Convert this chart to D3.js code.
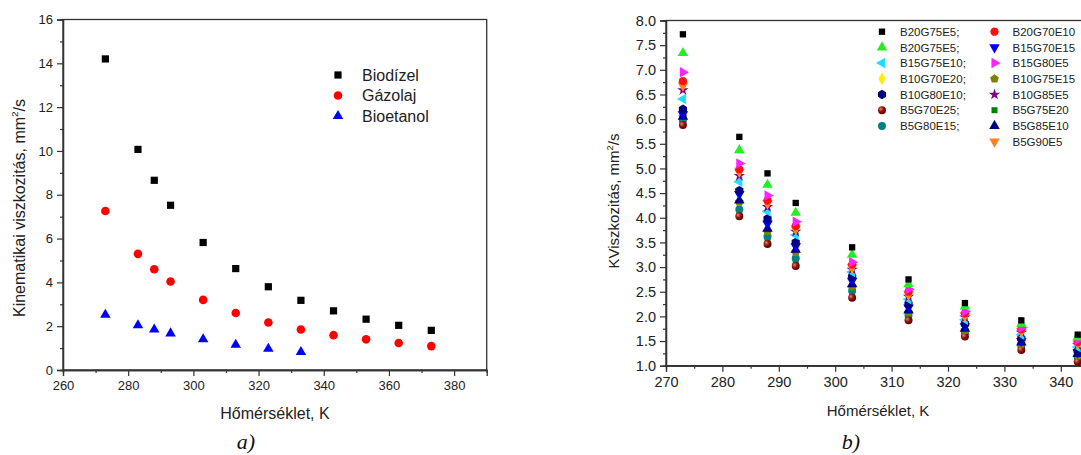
<!DOCTYPE html>
<html>
<head>
<meta charset="utf-8">
<script src="https://cdn.jsdelivr.net/npm/d3@7"></script>
<style>
  html, body { margin: 0; padding: 0; background: #fff; overflow: hidden; }
  svg { display: block; font-family: "Liberation Sans", Arial, sans-serif; }
</style>
</head>
<body>
<svg id="chart" width="1081" height="455"></svg>
<script>
// ---- Panel a): kinematic viscosity of the pure fuels ----
const tempsA = [273, 283, 288, 293, 303, 313, 323, 333, 343, 353, 363, 373];
const biodizel = [14.2, 10.07, 8.66, 7.52, 5.82, 4.63, 3.8, 3.18, 2.7, 2.32, 2.04, 1.81];
const gazolaj = [7.26, 5.3, 4.6, 4.04, 3.2, 2.6, 2.17, 1.85, 1.59, 1.4, 1.23, 1.09];
const bioetanol = [2.52, 2.04, 1.85, 1.67, 1.4, 1.15, 0.97, 0.82];
const seriesNamesA = ["Biodízel", "Gázolaj", "Bioetanol"];
const xTicksA = [260, 280, 300, 320, 340, 360, 380];
const yTicksA = [0, 2, 4, 6, 8, 10, 12, 14, 16];

// ---- Panel b): viscosity of the blends ----
const tempsB = [273, 283, 288, 293, 303, 313, 323, 333, 343];
const B20G75E5_a = [7.72, 5.64, 4.9, 4.3, 3.4, 2.75, 2.27, 1.92, 1.63];
const B20G75E5_b = [7.34, 5.37, 4.67, 4.1, 3.25, 2.65, 2.2, 1.85, 1.58];
const B15G75E10 = [6.41, 4.73, 4.13, 3.65, 2.9, 2.35, 1.93, 1.63, 1.38];
const B10G70E20 = [6.7, 4.95, 4.3, 3.78, 3.0, 2.45, 2.02, 1.7, 1.45];
const B10G80E10 = [6.2, 4.55, 3.98, 3.5, 2.8, 2.25, 1.85, 1.55, 1.3];
const B5G70E25 = [5.88, 4.03, 3.47, 3.02, 2.38, 1.92, 1.59, 1.32, 1.08];
const B5G80E15 = [5.97, 4.17, 3.62, 3.18, 2.52, 2.02, 1.67, 1.4, 1.17];
const B20G70E10 = [6.77, 4.98, 4.35, 3.83, 3.05, 2.5, 2.06, 1.74, 1.48];
const B15G70E15 = [6.1, 4.48, 3.88, 3.42, 2.72, 2.18, 1.8, 1.5, 1.27];
const B15G80E5 = [6.95, 5.1, 4.45, 3.92, 3.1, 2.55, 2.1, 1.77, 1.52];
const B10G75E15 = [6.05, 4.32, 3.72, 3.3, 2.6, 2.08, 1.72, 1.44, 1.2];
const B10G85E5 = [6.59, 4.85, 4.22, 3.72, 2.95, 2.4, 1.98, 1.67, 1.42];
const B5G75E20 = [5.93, 4.12, 3.55, 3.1, 2.45, 1.97, 1.63, 1.36, 1.13];
const B5G85E10 = [6.05, 4.35, 3.78, 3.35, 2.65, 2.12, 1.75, 1.47, 1.24];
const B5G90E5 = [6.68, 4.93, 4.3, 3.78, 3.0, 2.45, 2.02, 1.7, 1.45];
const xTicksB = [270, 280, 290, 300, 310, 320, 330, 340];
const yTicksB = [1.0, 1.5, 2.0, 2.5, 3.0, 3.5, 4.0, 4.5, 5.0, 5.5, 6.0, 6.5, 7.0, 7.5, 8.0];

const svg = d3.select("#chart");
const axisColor = "#333";

// Regular polygon symbol (hexagon, pentagon) usable with d3.symbol
function polygonSymbol(n) {
  return {
    draw(ctx, size) {
      const r = Math.sqrt(size / (n / 2 * Math.sin(2 * Math.PI / n)));
      for (let i = 0; i < n; i++) {
        const a = -Math.PI / 2 + i * 2 * Math.PI / n;
        const px = r * Math.cos(a), py = r * Math.sin(a);
        if (i === 0) ctx.moveTo(px, py); else ctx.lineTo(px, py);
      }
      ctx.closePath();
    }
  };
}

// Sphere gradient for the B5G70E25 marker
const defs = svg.append("defs");
const grad = defs.append("radialGradient").attr("id", "sphere")
  .attr("cx", "35%").attr("cy", "35%").attr("r", "65%");
grad.append("stop").attr("offset", "0%").attr("stop-color", "#e08a7a");
grad.append("stop").attr("offset", "45%").attr("stop-color", "#9a1a10");
grad.append("stop").attr("offset", "100%").attr("stop-color", "#5a0000");

function drawAxes(g, x, y, opt) {
  // frame
  const [x0, x1] = x.range();
  const [y0, y1] = y.range();
  g.append("rect")
    .attr("x", x0).attr("y", y1)
    .attr("width", x1 - x0).attr("height", y0 - y1)
    .attr("fill", "none").attr("stroke", axisColor).attr("stroke-width", 1.3);

  const xAxis = g.append("g").attr("transform", `translate(0,${y0})`)
    .call(d3.axisBottom(x).tickValues(opt.xTicks).tickSize(6).tickPadding(5)
      .tickFormat(opt.xFmt));
  const xMinor = g.append("g").attr("transform", `translate(0,${y0})`)
    .call(d3.axisBottom(x).tickValues(opt.xMinor).tickSize(3).tickFormat(""));
  const yAxis = g.append("g").attr("transform", `translate(${x0},0)`)
    .call(d3.axisLeft(y).tickValues(opt.yTicks).tickSize(6).tickPadding(4)
      .tickFormat(opt.yFmt));
  const yMinor = g.append("g").attr("transform", `translate(${x0},0)`)
    .call(d3.axisLeft(y).tickValues(opt.yMinor).tickSize(3).tickFormat(""));

  [xAxis, xMinor, yAxis, yMinor].forEach(a => {
    a.select(".domain").attr("stroke", axisColor).attr("stroke-width", 1.3);
    a.selectAll(".tick line").attr("stroke", axisColor).attr("stroke-width", 1.2);
    a.selectAll("text").attr("fill", "#222").attr("font-size", opt.tickFont)
      .attr("font-family", "Liberation Sans, Arial, sans-serif");
  });
}

function addYTitle(g, cx, cy, main, size) {
  const t = g.append("text")
    .attr("transform", `translate(${cx},${cy}) rotate(-90)`)
    .attr("text-anchor", "middle")
    .attr("font-size", size).attr("fill", "#222");
  t.append("tspan").text(main);
  t.append("tspan").attr("font-size", size * 0.62).attr("dy", -size * 0.42).text("2");
  t.append("tspan").attr("dy", size * 0.42).text("/s");
}

// ================= Panel a) =================
{
  const g = svg.append("g");
  const x = d3.scaleLinear().domain([260, 390]).range([63, 486.7]);
  const y = d3.scaleLinear().domain([0, 16]).range([370, 19.5]);

  drawAxes(g, x, y, {
    xTicks: xTicksA, xMinor: d3.range(270, 390, 20),
    yTicks: yTicksA, yMinor: d3.range(1, 16, 2),
    xFmt: d3.format("d"), yFmt: d3.format("d"), tickFont: 13
  });

  const sets = [
    { name: seriesNamesA[0], t: tempsA, v: biodizel, type: d3.symbolSquare, size: 52, color: "#000", rot: 0 },
    { name: seriesNamesA[1], t: tempsA, v: gazolaj, type: d3.symbolCircle, size: 58, color: "#f00", rot: 0 },
    { name: seriesNamesA[2], t: tempsA.slice(0, bioetanol.length), v: bioetanol, type: d3.symbolTriangle, size: 48, color: "#00f", rot: 0 }
  ];

  sets.forEach(s => {
    g.append("g").selectAll("path")
      .data(s.v.map((v, i) => [s.t[i], v]))
      .join("path")
      .attr("d", d3.symbol().type(s.type).size(s.size))
      .attr("transform", d => `translate(${x(d[0])},${y(d[1])})`)
      .attr("fill", s.color);
  });

  // legend
  const lg = g.append("g");
  sets.forEach((s, i) => {
    const ly = 75 + i * 20.5;
    lg.append("path").attr("d", d3.symbol().type(s.type).size(s.size)())
      .attr("transform", `translate(338,${ly})`).attr("fill", s.color);
    lg.append("text").attr("x", 362).attr("y", ly + 5.5)
      .attr("font-size", 16).attr("fill", "#222").text(s.name);
  });

  g.append("text").attr("x", 275).attr("y", 419).attr("text-anchor", "middle")
    .attr("font-size", 16).attr("fill", "#222").text("Hőmérséklet, K");
  addYTitle(g, 25, 208, "Kinematikai viszkozitás, mm", 16);
  g.append("text").attr("x", 246).attr("y", 449).attr("text-anchor", "middle")
    .attr("font-family", "Liberation Serif, Times New Roman, serif")
    .attr("font-style", "italic").attr("font-size", 22).attr("fill", "#111").text("a)");
}

// ================= Panel b) =================
{
  const g = svg.append("g");
  const x = d3.scaleLinear().domain([270, 345]).range([666, 1089]);
  const y = d3.scaleLinear().domain([1, 8]).range([365.7, 20.5]);

  drawAxes(g, x, y, {
    xTicks: xTicksB, xMinor: d3.range(275, 345, 10),
    yTicks: yTicksB, yMinor: d3.range(1.25, 8, 0.5),
    xFmt: d3.format("d"), yFmt: d3.format(".1f"), tickFont: 14.5
  });

  const tri = d3.symbolTriangle;
  const sets = [
    { name: "B20G75E5;", v: B20G75E5_a, type: d3.symbolSquare, size: 40, color: "#000", rot: 0 },
    { name: "B20G75E5;", v: B20G75E5_b, type: tri, size: 48, color: "#22ee22", rot: 0 },
    { name: "B15G75E10;", v: B15G75E10, type: tri, size: 48, color: "#22ddff", rot: -90 },
    { name: "B10G70E20;", v: B10G70E20, type: d3.symbolDiamond, size: 46, color: "#ffee00", rot: 0 },
    { name: "B10G80E10;", v: B10G80E10, type: polygonSymbol(6), size: 58, color: "#000080", rot: 0 },
    { name: "B5G70E25;", v: B5G70E25, type: d3.symbolCircle, size: 50, color: "url(#sphere)", rot: 0 },
    { name: "B5G80E15;", v: B5G80E15, type: d3.symbolCircle, size: 50, color: "#008080", rot: 0 },
    { name: "B20G70E10", v: B20G70E10, type: d3.symbolCircle, size: 54, color: "#ff1010", rot: 0 },
    { name: "B15G70E15", v: B15G70E15, type: tri, size: 48, color: "#0000ee", rot: 180 },
    { name: "B15G80E5", v: B15G80E5, type: tri, size: 48, color: "#ff22ff", rot: 90 },
    { name: "B10G75E15", v: B10G75E15, type: polygonSymbol(5), size: 50, color: "#808000", rot: 0 },
    { name: "B10G85E5", v: B10G85E5, type: d3.symbolStar, size: 40, color: "#800080", rot: 0 },
    { name: "B5G75E20", v: B5G75E20, type: d3.symbolSquare, size: 36, color: "#008000", rot: 0 },
    { name: "B5G85E10", v: B5G85E10, type: tri, size: 48, color: "#000080", rot: 0 },
    { name: "B5G90E5", v: B5G90E5, type: tri, size: 48, color: "#ff8020", rot: 180 }
  ];

  // drawn bottom-up so that the upper markers of each column stay visible
  const order = [12, 6, 5, 10, 13, 8, 4, 2, 11, 3, 14, 7, 9, 1, 0];
  order.forEach(k => {
    const s = sets[k];
    g.append("g").selectAll("path")
      .data(s.v.map((v, i) => [tempsB[i], v]))
      .join("path")
      .attr("d", d3.symbol().type(s.type).size(s.size))
      .attr("transform", d => `translate(${x(d[0])},${y(d[1])}) rotate(${s.rot})`)
      .attr("fill", s.color);
  });

  // legend: two columns
  const lg = g.append("g");
  sets.forEach((s, i) => {
    const col = i < 7 ? 0 : 1;
    const row = i < 7 ? i : i - 7;
    const sx = col === 0 ? 882 : 994.5;
    const ly = 31.7 + row * 15.7;
    lg.append("path").attr("d", d3.symbol().type(s.type).size(s.size)())
      .attr("transform", `translate(${sx},${ly}) rotate(${s.rot})`).attr("fill", s.color);
    lg.append("text").attr("x", sx + 18).attr("y", ly + 4.2)
      .attr("font-size", 11.5).attr("fill", "#222").text(s.name);
  });

  g.append("text").attr("x", 878).attr("y", 416).attr("text-anchor", "middle")
    .attr("font-size", 15).attr("fill", "#222").text("Hőmérséklet, K");
  addYTitle(g, 619, 201, "KViszkozitás, mm", 15);
  g.append("text").attr("x", 851).attr("y", 449).attr("text-anchor", "middle")
    .attr("font-family", "Liberation Serif, Times New Roman, serif")
    .attr("font-style", "italic").attr("font-size", 22).attr("fill", "#111").text("b)");
}
</script>
</body>
</html>
